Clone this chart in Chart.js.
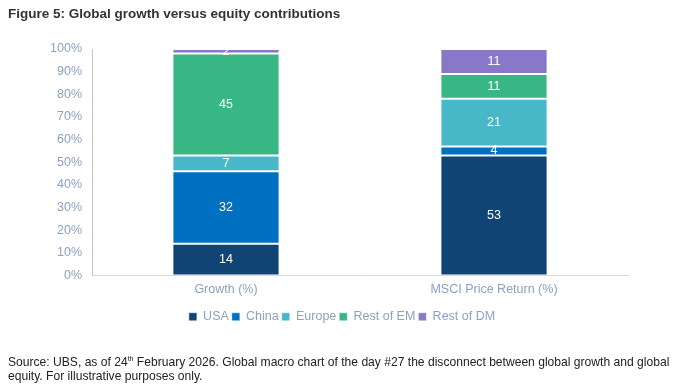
<!DOCTYPE html>
<html><head><meta charset="utf-8">
<script src="https://cdn.jsdelivr.net/npm/chart.js@4.4.1/dist/chart.umd.min.js"></script>
<style>
html,body{margin:0;padding:0;background:#fff;width:682px;height:390px;overflow:hidden;font-family:"Liberation Sans",Arial,sans-serif;}
#wrap{position:absolute;left:0;top:0;width:682px;height:390px;}
#title{position:absolute;left:8px;top:6px;font-weight:bold;font-size:13.5px;color:#333;}
#source{position:absolute;left:8px;top:352px;font-size:12.1px;color:#222;line-height:13.5px;width:672px;}
#source sup{font-size:7px;}
canvas{position:absolute;left:0;top:0;}
</style></head><body>
<div id="wrap"><canvas id="c" width="682" height="390"></canvas></div>
<div id="title">Figure 5: Global growth versus equity contributions</div>
<div id="source">Source: UBS, as of 24<sup>th</sup> February 2026. Global macro chart of the day #27 the disconnect between global growth and global equity. For illustrative purposes only.</div>
<script>
const categories = ["Growth (%)", "MSCI Price Return (%)"];
const seriesNames = ["USA", "China", "Europe", "Rest of EM", "Rest of DM"];
const usa = [14, 53];
const china = [32, 4];
const europe = [7, 21];
const restEM = [45, 11];
const restDM = [2, 11];
const yTicks = [0,10,20,30,40,50,60,70,80,90,100];

const colors = ["#0f4475", "#0070c0", "#48b8c8", "#38b784", "#8878c8"];
const values = [usa, china, europe, restEM, restDM];
const textGrey = '#8ca2c2';

const labelPlugin = {
  id: 'segLabels',
  afterDatasetsDraw(chart) {
    const ctx = chart.ctx;
    ctx.save();
    ctx.fillStyle = '#fff';
    ctx.font = '12.5px "Liberation Sans", Arial, sans-serif';
    ctx.textAlign = 'center';
    ctx.textBaseline = 'middle';
    chart.data.datasets.forEach((ds, i) => {
      const meta = chart.getDatasetMeta(i);
      meta.data.forEach((bar, j) => {
        const v = ds.data[j];
        const p = bar.getProps(['x','y','base'], true);
        ctx.fillText(String(v), p.x, (p.y + p.base) / 2);
      });
    });
    ctx.restore();
  }
};

const legendShift = {
  id: 'legendShift',
  afterLayout(chart) {
    const lg = chart.legend;
    if (lg) { lg.left += 23; lg.right += 23; }
  }
};

new Chart(document.getElementById('c'), {
  type: 'bar',
  data: {
    labels: categories,
    datasets: seriesNames.map((n, i) => ({
      label: n,
      data: values[i],
      backgroundColor: colors[i],
      borderColor: 'rgba(255,255,255,0.45)',
      borderWidth: 1,
      borderSkipped: false,
      categoryPercentage: 1.0,
      barPercentage: 0.4
    }))
  },
  options: {
    responsive: false,
    animation: false,
    devicePixelRatio: 1,
    layout: { padding: { left: 10, right: 54, top: 49, bottom: 57 } },
    plugins: {
      legend: {
        position: 'bottom',
        labels: {
          boxWidth: 8, boxHeight: 8, padding: 3,
          color: textGrey,
          font: { family: '"Liberation Sans", Arial, sans-serif', size: 12.5 }
        }
      },
      tooltip: { enabled: false }
    },
    scales: {
      x: {
        stacked: true,
        afterFit: (s) => { s.height = 32; },
        grid: { display: false, drawTicks: false },
        border: { color: '#d9d9e0', width: 1 },
        ticks: { color: textGrey, padding: 7, font: { family: '"Liberation Sans", Arial, sans-serif', size: 12.5 } }
      },
      y: {
        stacked: true,
        min: 0, max: 100,
        afterBuildTicks: (s) => { s.ticks = yTicks.map(v => ({ value: v })); },
        afterFit: (s) => { s.width = 82; },
        grid: { display: false, drawTicks: false },
        border: { color: '#c8c4c0', width: 1 },
        ticks: { color: textGrey, padding: 10, callback: v => v + '%', font: { family: '"Liberation Sans", Arial, sans-serif', size: 12.5 } }
      }
    }
  },
  plugins: [labelPlugin, legendShift]
});
</script>
</body></html>
